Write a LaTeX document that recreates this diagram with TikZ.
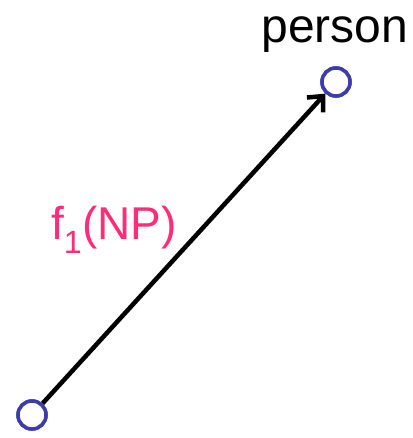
\documentclass[tikz,border=0pt]{standalone}
\usepackage{fontspec}
\setmainfont{Liberation Sans}
\usetikzlibrary{arrows.meta,positioning}

\definecolor{ringblue}{RGB}{60,60,170}
\definecolor{labelpink}{RGB}{255,45,120}

\tikzset{
    point/.style={circle, draw=ringblue, line width=3.5pt, fill=white, minimum size=28pt, inner sep=0pt},
    edge/.style={line width=4.5pt, -{Straight Barb[length=12pt,width=22pt]}}
}

\begin{document}
\begin{tikzpicture}[x=1pt,y=1pt]
        \useasboundingbox (0,0) rectangle (412,438);
        \node[point] (src) at (32,23) {};
        \node[point] (dst) at (336,356) {};
        \draw[edge] (src) -- (dst);
        \node[point] at (src) {};
        \node[point] at (dst) {};
        \node[anchor=base, font=\fontsize{48}{50}\selectfont, inner sep=0pt] (person) at (335,395) {person};
        \node[anchor=base, labelpink, font=\fontsize{46}{48}\selectfont, inner sep=0pt] (flabel) at (114,198) {f\textsubscript{1}(NP)};
    \end{tikzpicture}
\end{document}
